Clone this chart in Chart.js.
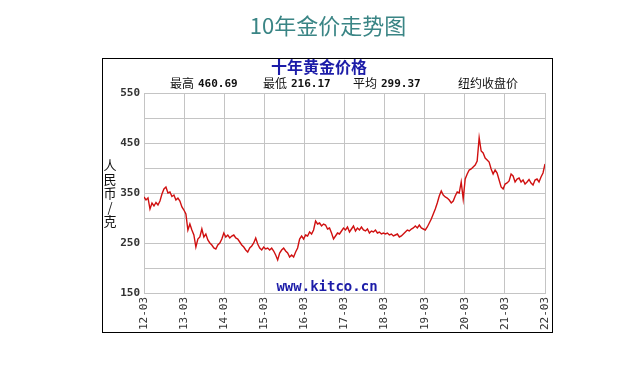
<!DOCTYPE html>
<html>
<head>
<meta charset="utf-8">
<script src="https://cdn.jsdelivr.net/npm/chart.js@4/dist/chart.umd.min.js"></script>
<style>
html,body{margin:0;padding:0;background:#fff;}
canvas{display:block;}
</style>
</head>
<body>
<canvas id="c" width="627" height="383"></canvas>
<script>
const pageTitle = "10年金价走势图";
const chartTitle = "十年黄金价格";
const statNames = ["最高", "最低", "平均"];
const statValues = ["460.69", "216.17", "299.37"];
const priceNote = "纽约收盘价";
const unitLabel = ["人", "民", "币", "/", "克"];
const watermark = "www.kitco.cn";
const yearLabels = ["12-03","13-03","14-03","15-03","16-03","17-03","18-03","19-03","20-03","21-03","22-03"];
const yTickLabels = ["150","250","350","450","550"];
// gold price (RMB/gram), evenly sampled from 2012-03 to 2022-03
const goldPrice = [
342,336,340,318,330,324,331,326,334,348,
358,362,350,352,343,346,336,340,334,322,
316,308,276,288,276,266,242,258,262,278,
262,268,256,250,246,240,238,246,250,258,
270,262,266,260,264,266,260,258,252,246,
242,236,232,240,244,250,260,248,240,236,
242,238,240,236,240,234,226,216.17,230,236,
240,234,230,222,226,222,232,240,258,264,
258,266,264,272,268,276,294,288,290,284,
288,286,278,280,270,258,264,270,268,274,
280,276,282,272,278,284,274,280,276,282,
276,274,278,270,274,272,276,270,272,268,
270,268,270,266,268,264,266,268,262,264,
268,272,276,274,278,280,284,280,286,280,
278,276,282,290,298,308,318,330,344,354,
346,342,340,336,330,334,344,352,350,372,
338,378,388,396,398,402,406,414,460.69,434,
430,420,416,412,398,388,396,390,376,362,
358,368,370,374,388,384,372,378,380,372,
376,368,372,377,370,366,376,378,372,382,
390,408
];

const span = yearLabels.length - 1;
const points = goldPrice.map((v, i) => ({x: i * span / (goldPrice.length - 1), y: v}));

const decor = {
  id: 'decor',
  beforeDraw(chart) {
    const ctx = chart.ctx;
    ctx.save();
    ctx.fillStyle = '#fff';
    ctx.fillRect(0, 0, chart.width, chart.height);
    ctx.restore();
  },
  afterDraw(chart) {
    const ctx = chart.ctx;
    const a = chart.chartArea;
    ctx.save();
    // outer frame
    ctx.strokeStyle = '#000';
    ctx.lineWidth = 1;
    ctx.strokeRect(102.5, 58.5, 450, 274);
    // page title
    ctx.fillStyle = '#3a8585';
    ctx.font = '22px "Noto Sans CJK SC", "Noto Sans", sans-serif';
    ctx.textAlign = 'center';
    ctx.textBaseline = 'middle';
    ctx.fillText(pageTitle, 328, 26);
    // chart title
    ctx.fillStyle = '#1c1ca8';
    ctx.font = 'bold 16px "Noto Sans CJK SC", sans-serif';
    ctx.fillText(chartTitle, 319, 67);
    // stats
    ctx.textAlign = 'left';
    ctx.fillStyle = '#111';
    const sx = [170, 263, 353];
    for (let i = 0; i < statNames.length; i++) {
      ctx.font = '12px "Noto Sans CJK SC", sans-serif';
      ctx.fillText(statNames[i], sx[i], 83);
      const w = ctx.measureText(statNames[i]).width;
      ctx.font = 'bold 11px "DejaVu Sans Mono", monospace';
      ctx.fillText(statValues[i], sx[i] + w + 4, 84);
    }
    ctx.font = '12px "Noto Sans CJK SC", sans-serif';
    ctx.fillText(priceNote, 458, 83);
    // unit label stacked
    ctx.textAlign = 'center';
    ctx.font = '13px "Noto Sans CJK SC", sans-serif';
    const uy = [165, 179, 193, 207, 221];
    unitLabel.forEach((ch, i) => ctx.fillText(ch, 110, uy[i]));
    // watermark
    ctx.fillStyle = '#1c1ca8';
    ctx.font = 'bold 14px "DejaVu Sans Mono", monospace';
    ctx.fillText(watermark, 327, 287);
    ctx.restore();
  }
};

new Chart(document.getElementById('c'), {
  type: 'line',
  data: {
    datasets: [{
      data: points,
      borderColor: '#d01010',
      borderWidth: 1.4,
      pointRadius: 0,
      tension: 0,
      fill: false
    }]
  },
  options: {
    responsive: false,
    animation: false,
    events: [],
    layout: {padding: {left: 0, right: 82, top: 93, bottom: 0}},
    plugins: {legend: {display: false}, tooltip: {enabled: false}, title: {display: false}},
    scales: {
      x: {
        type: 'linear',
        min: 0,
        max: span,
        afterFit(s) { s.height = 90; },
        grid: {color: '#c4c4c4', drawTicks: false, lineWidth: 1},
        border: {color: '#c4c4c4'},
        ticks: {
          stepSize: 1,
          autoSkip: false,
          minRotation: 90,
          maxRotation: 90,
          padding: 4,
          color: '#333',
          font: {family: '"DejaVu Sans Mono", monospace', size: 11},
          callback: (v) => yearLabels[v] !== undefined ? yearLabels[v] : ''
        }
      },
      y: {
        min: 150,
        max: 550,
        afterFit(s) { s.width = 144; },
        grid: {color: '#c4c4c4', drawTicks: false, lineWidth: 1},
        border: {color: '#c4c4c4'},
        ticks: {
          stepSize: 50,
          padding: 4,
          color: '#333',
          font: {family: '"DejaVu Sans Mono", monospace', size: 11, weight: 'bold'},
          callback: (v) => yTickLabels.includes(String(v)) ? String(v) : ''
        }
      }
    }
  },
  plugins: [decor]
});
</script>
</body>
</html>
